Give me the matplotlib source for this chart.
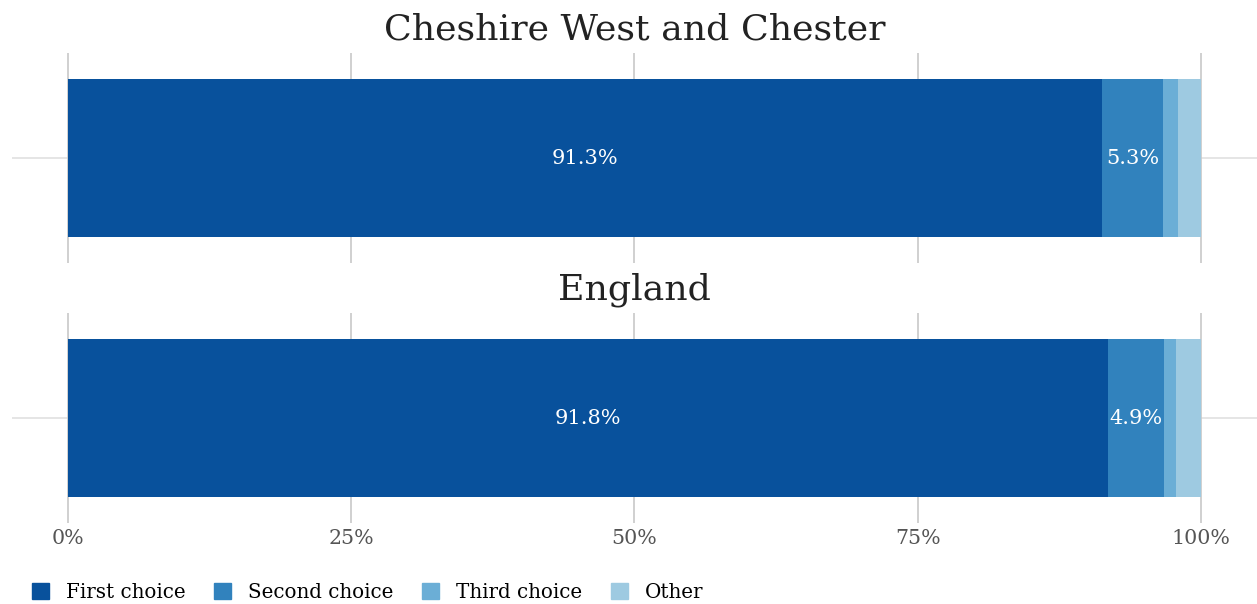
import matplotlib.pyplot as plt
from matplotlib.patches import Patch

plt.rcParams['font.family'] = ['DejaVu Serif']

areas = ['Cheshire West and Chester', 'England']
categories = ['First choice', 'Second choice', 'Third choice', 'Other']
first_choice = [91.3, 91.8]
second_choice = [5.3, 4.9]
third_choice = [1.4, 1.1]
other = [2.0, 2.2]
colours = ['#08519c', '#3182bd', '#6baed6', '#9ecae1']
ticks = [0, 25, 50, 75, 100]
tick_labels = ['0%', '25%', '50%', '75%', '100%']

series = [first_choice, second_choice, third_choice, other]

fig = plt.figure(figsize=(12.57, 6.04), dpi=100)
W, H = 1257, 604
panels = [(53, 263), (313, 523)]

for i, area in enumerate(areas):
    top, bottom = panels[i]
    ax = fig.add_axes([12 / W, 1 - bottom / H, (W - 12) / W, (bottom - top) / H])
    left = 0
    for j, s in enumerate(series):
        ax.barh(0, s[i], left=left, height=0.75, color=colours[j], zorder=2)
        if j < 2:
            ax.text(left + s[i] / 2, 0, f'{s[i]}%', color='white',
                    ha='center', va='center', fontsize=15, zorder=3)
        left += s[i]
    ax.set_xlim(-4.94, 104.94)
    ax.set_ylim(-0.5, 0.5)
    ax.set_xticks(ticks)
    ax.set_xticklabels(tick_labels if i == 1 else [])
    ax.tick_params(axis='x', length=0, labelsize=14.8, labelcolor='#555555', pad=4)
    ax.set_yticks([])
    for x in ticks:
        ax.axvline(x, color='#c8c8c8', lw=1.2, zorder=1)
    ax.axhline(0, color='#e0e0e0', lw=1.2, zorder=0)
    for sp in ax.spines.values():
        sp.set_visible(False)
    ax.set_title(area, fontsize=26.2, color='#222222', pad=10)

handles = [Patch(color=c, label=l) for c, l in zip(colours, categories)]
fig.legend(handles=handles, loc='center left', bbox_to_anchor=(14 / W, 1 - 592 / H),
           ncol=4, frameon=False, fontsize=14.3, handlelength=0.85, handleheight=0.85,
           columnspacing=1.45, handletextpad=0.85)

fig.savefig('out.png', dpi=100)
